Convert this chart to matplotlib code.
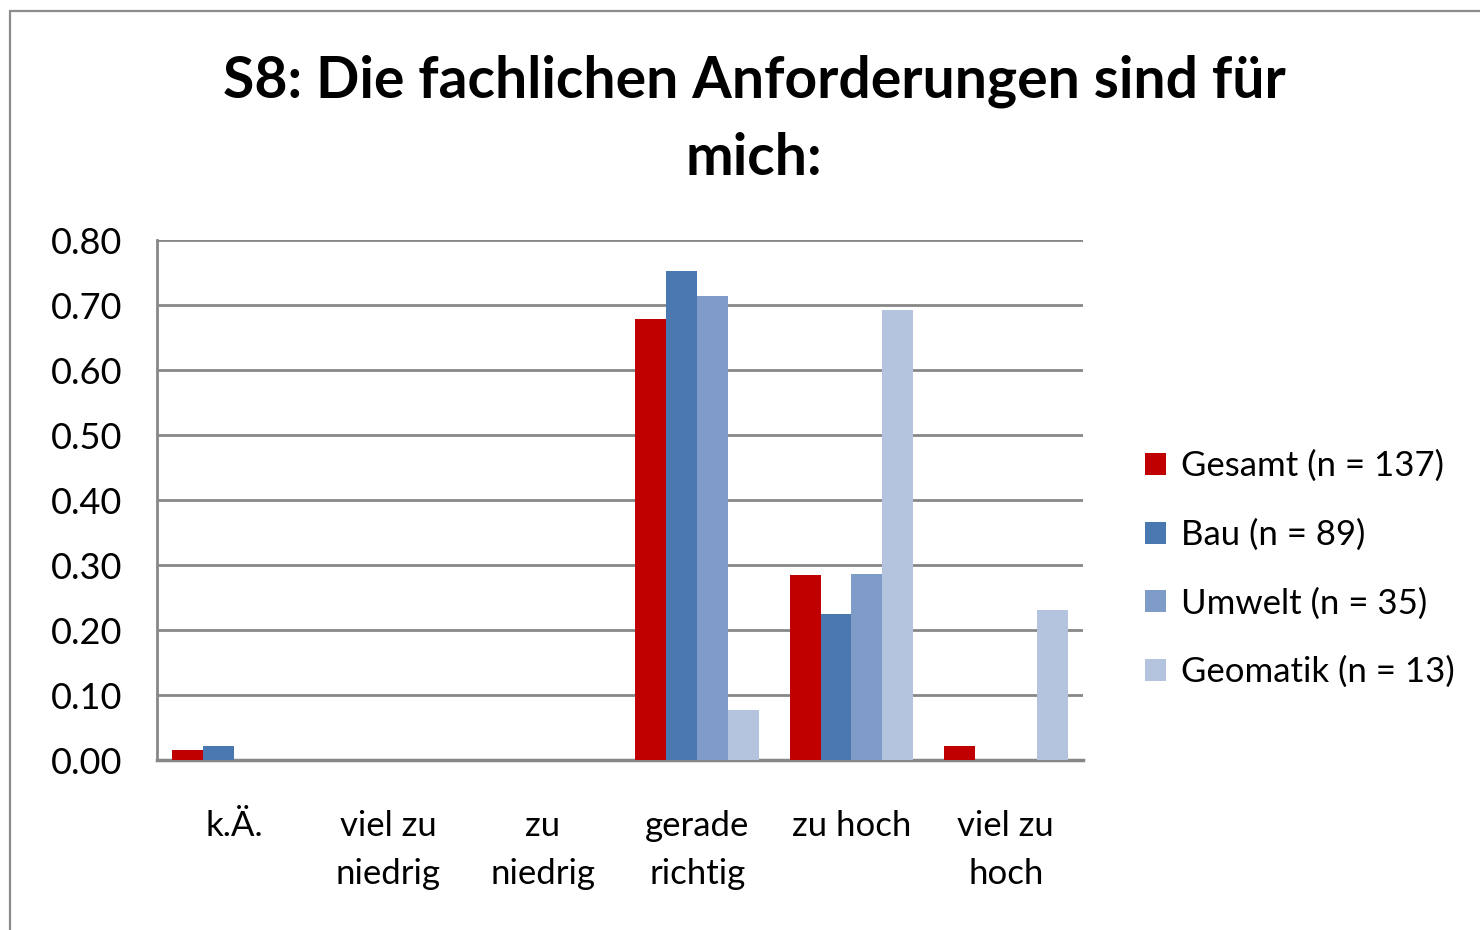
import numpy as np
import matplotlib.pyplot as plt
from matplotlib.patches import Rectangle

plt.rcParams['font.family'] = ['Lato', 'DejaVu Sans']

categories = ['k.Ä.', 'viel zu\nniedrig', 'zu\nniedrig', 'gerade\nrichtig', 'zu hoch', 'viel zu\nhoch']
series = ['Gesamt (n = 137)', 'Bau (n = 89)', 'Umwelt (n = 35)', 'Geomatik (n = 13)']
gesamt = [0.015, 0.0, 0.0, 0.679, 0.285, 0.022]
bau = [0.022, 0.0, 0.0, 0.753, 0.225, 0.0]
umwelt = [0.0, 0.0, 0.0, 0.714, 0.286, 0.0]
geomatik = [0.0, 0.0, 0.0, 0.077, 0.692, 0.231]
colors = ['#c00000', '#4a78b0', '#7f9cc8', '#b5c4de']
yticks = [0.0, 0.1, 0.2, 0.3, 0.4, 0.5, 0.6, 0.7, 0.8]

W, H = 1480, 930
fig = plt.figure(figsize=(W / 100, H / 100), dpi=100)
fig.patch.set_facecolor('white')

# outer chart frame (cut off at right/bottom like the source)
fig.patches.append(Rectangle((10 / W, -0.1), 1.2, 1 - 11 / H + 0.1,
                             transform=fig.transFigure, fill=False,
                             edgecolor='#8c8c8c', linewidth=1.6))

ax = fig.add_axes([157 / W, 1 - 760 / H, (1083 - 157) / W, (760 - 240) / H])

x = np.arange(len(categories))
width = 0.2
data = [gesamt, bau, umwelt, geomatik]
for i, (vals, name, c) in enumerate(zip(data, series, colors)):
    ax.bar(x + (i - 1.5) * width, vals, width, color=c, label=name, zorder=3,
           linewidth=0)

ax.set_xlim(-0.5, len(categories) - 0.5)
ax.set_ylim(0, 0.8)
ax.set_yticks(yticks)
ax.set_yticklabels(['%.2f' % v for v in yticks], fontsize=26)
ax.set_xticks(x)
ax.set_xticklabels(categories, fontsize=25, linespacing=1.6, va='top')
ax.tick_params(axis='x', length=0, pad=36)
ax.tick_params(axis='y', length=0, pad=25)
ax.grid(axis='y', color='#878787', linewidth=2.0, zorder=1)
for s in ['top', 'right']:
    ax.spines[s].set_visible(False)
ax.spines['left'].set_color('#878787')
ax.spines['left'].set_linewidth(2.0)
ax.spines['bottom'].set_color('#878787')
ax.spines['bottom'].set_linewidth(2.5)

fig.text(754 / W, 1 - 120 / H, 'S8: Die fachlichen Anforderungen sind für\nmich:',
         ha='center', va='center', fontsize=41, fontweight='bold', linespacing=1.55)

fig.legend(loc='center left', bbox_to_anchor=(1145 / W, 1 - 569 / H),
           frameon=False, fontsize=25, handlelength=0.6, handleheight=0.6,
           handletextpad=0.45, labelspacing=1.05, borderpad=0, borderaxespad=0)

fig.savefig('out.png', dpi=100, facecolor='white')
